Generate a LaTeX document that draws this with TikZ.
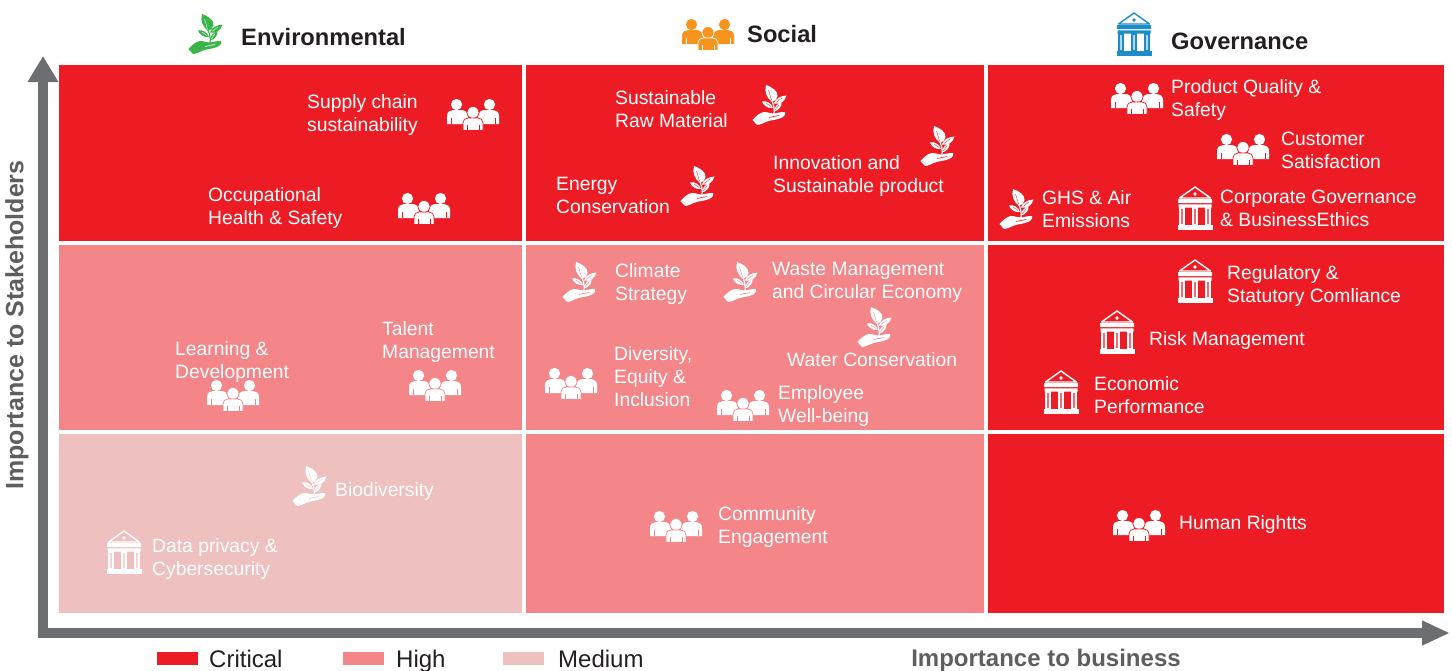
\documentclass[tikz,border=0pt]{standalone}
\usepackage{fontspec}
\usepackage{tikz}
\setmainfont{Liberation Sans}
\usetikzlibrary{arrows.meta}
\definecolor{critical}{HTML}{ED1C24}
\definecolor{highred}{HTML}{F4868A}
\definecolor{mediumred}{HTML}{EEC0C0}
\definecolor{axisgrey}{HTML}{6D6E71}
\definecolor{inkblack}{HTML}{231F20}
\definecolor{mgreen}{HTML}{39B54A}
\definecolor{morange}{HTML}{F7941E}
\definecolor{mblue}{HTML}{1C8CCB}
\tikzset{label/.style = {anchor = west, inner sep = 0, align = left, text = white, font = \fontsize{19.3}{23}\selectfont}}
\tikzset{head/.style = {anchor = west, inner sep = 0, text = inkblack, font = \fontsize{23.7}{28}\selectfont\bfseries}}
\tikzset{legend/.style = {anchor = base west, inner sep = 0, text = inkblack, font = \fontsize{24}{28}\selectfont}}
\tikzset{axistext/.style = {inner sep = 0, text = axisgrey!85!black, font = \fontsize{24}{28}\selectfont\bfseries}}
\tikzset{swatch/.style = {anchor = west, inner sep = 0, minimum width = 41, minimum height = 13}}
\tikzset{yaxis/.style = {draw = axisgrey, line width = 9.5, {Triangle[length = 26pt, width = 29pt]}-}}
\tikzset{xaxis/.style = {draw = axisgrey, line width = 9.5, -{Triangle[length = 28pt, width = 23pt]}}}
\tikzset{pics/people/.style 2 args = {code = {
  \fill [#1] (-16.5, -8.5) circle (5.6) (16.5, -8.5) circle (5.6);
  \fill [#1] (-26, 11) -- (-26, 3) .. controls (-26, -1) and (-23, -3) .. (-20, -3) -- (-12, -3) .. controls (-8, -3) and (-6, -1) .. (-5, 3) -- (-5, 11) -- cycle;
  \fill [#1] (26, 11) -- (26, 3) .. controls (26, -1) and (23, -3) .. (20, -3) -- (12, -3) .. controls (8, -3) and (6, -1) .. (5, 3) -- (5, 11) -- cycle;
  \filldraw [fill = #1, draw = #2, line width = 0.7] (0, -0.5) circle (6);
  \filldraw [fill = #1, draw = #2, line width = 0.7] (-10, 17.5) -- (-10, 10) .. controls (-10, 7) and (-8, 5) .. (-5, 5) -- (5, 5) .. controls (8, 5) and (10, 7) .. (10, 10) -- (10, 17.5) -- cycle;
  \draw [#2, line width = 0.7] (-22, 5) -- (-22, 11) (22, 5) -- (22, 11) (-6, 12) -- (-6, 17.5) (6, 12) -- (6, 17.5);
}}}
\tikzset{pics/plant/.style 2 args = {code = {
  \fill [#1] (-17.5, 15) .. controls (-14, 11) and (-10, 7.5) .. (-6, 7) .. controls (-2, 7) and (0, 8.5) .. (3, 8.5) .. controls (7, 8.5) and (11, 6.5) .. (15, 7) .. controls (16, 9) and (14, 12) .. (11, 13) .. controls (6, 15) and (1, 15) .. (-3, 16.5) .. controls (-7, 18) and (-10, 20) .. (-13, 20) -- cycle;
  \draw [#1, line width = 1.2] (4, 9) .. controls (5, 4) and (3, -2) .. (1, -7);
  \fill [#1] (2, -3) .. controls (-3, -7) and (-6, -13) .. (-4, -20) .. controls (2, -18) and (8, -14) .. (7.5, -9) .. controls (7, -6) and (5, -4) .. (2, -3) -- cycle;
  \fill [#1] (4, -1.5) .. controls (5, -6) and (10, -9) .. (16.5, -9.5) .. controls (15, -4) and (10, 0) .. (4, -1.5) -- cycle;
  \fill [#1] (3, 3) .. controls (1, -2) and (-3, -4.5) .. (-8, -3.5) .. controls (-7, 0) and (-2, 4) .. (3, 3) -- cycle;
  \fill [#1] (4, 6.5) .. controls (4, 2) and (7, -1) .. (11.5, -3) .. controls (12, 1) and (9, 5.5) .. (4, 6.5) -- cycle;
  \draw [#2, line width = 0.35] (1.5, -5) -- (-1.5, -15) (6, -2.5) -- (12, -7) (1, 1.5) -- (-4, -2) (5, 5) -- (9, 0);
  \draw [#2, line width = 0.6] (-1, 12.5) .. controls (2, 11.5) and (5, 11.5) .. (9, 10.5);
}}}
\tikzset{pics/bank/.style 2 args = {code = {
  \draw [#1, line width = 1.4, line join = round] (0, -21) -- (-15.5, -10) -- (15.5, -10) -- cycle;
  \fill [#1] (0, -14) circle (1.9);
  \fill [#1] (-17, -9) rectangle (17, -5) (-16.5, -3.6) rectangle (16.5, -0.4);
  \filldraw [draw = #1, fill = #1, fill opacity = 0.35, line width = 1.2] (-15, 0) rectangle (-11, 17) (-2, 0) rectangle (2, 17) (11, 0) rectangle (15, 17);
  \fill [#1] (-17.5, 17) rectangle (17.5, 22);
}}}
\begin{document}
\begin{tikzpicture}[x = 1pt, y = -1pt]
  \useasboundingbox (0, 0) rectangle (1452, 670);
  \fill [critical] (59, 65) rectangle (522, 241);
  \fill [critical] (526, 65) rectangle (984, 241);
  \fill [critical] (988, 65) rectangle (1444, 241);
  \fill [highred] (59, 245) rectangle (522, 430);
  \fill [highred] (526, 245) rectangle (984, 430);
  \fill [critical] (988, 245) rectangle (1444, 430);
  \fill [mediumred] (59, 434) rectangle (522, 613);
  \fill [highred] (526, 434) rectangle (984, 613);
  \fill [critical] (988, 434) rectangle (1444, 613);
  \coordinate (ytop) at (43, 56);
  \coordinate (origin) at (43, 633);
  \coordinate (xend) at (1450, 633);
  \draw [yaxis] (ytop) -- (origin);
  \draw [xaxis] ([xshift = -4.75] origin) -- (xend);
  \node [axistext, rotate = 90, font = \fontsize{25}{28}\selectfont\bfseries] (yname) at (17, 325) {Importance to Stakeholders};
  \node [axistext] (xname) at (1046, 660) {Importance to business};
  \pic at (206, 34) {plant = {mgreen}{white}};
  \node [head] (envhead) at (241, 37) {Environmental};
  \pic at (708, 33) {people = {morange}{white}};
  \node [head] (sochead) at (747, 34) {Social};
  \pic at (1134, 34) {bank = {mblue}{white}};
  \node [head] (govhead) at (1171, 41) {Governance};
  \node [label] (supply) at (307, 115) {Supply chain\\sustainability};
  \pic at (473, 113) {people = {white}{critical}};
  \node [label] (health) at (208, 208) {Occupational\\Health \& Safety};
  \pic at (424, 207) {people = {white}{critical}};
  \node [label] (material) at (615, 109) {Sustainable\\Raw Material};
  \pic at (770, 105) {plant = {white}{critical}};
  \node [label] (energy) at (556, 195) {Energy\\Conservation};
  \pic at (698, 186) {plant = {white}{critical}};
  \node [label] (innovation) at (773, 176) {Innovation and\\Sustainable product};
  \pic at (938, 146) {plant = {white}{critical}};
  \pic at (1137, 97) {people = {white}{critical}};
  \node [label] (quality) at (1171, 100) {Product Quality \&\\Safety};
  \pic at (1243, 148) {people = {white}{critical}};
  \node [label] (customer) at (1281, 150) {Customer\\Satisfaction};
  \pic at (1017, 209) {plant = {white}{critical}};
  \node [label] (ghs) at (1042, 209) {GHS \& Air\\Emissions};
  \pic at (1195, 208) {bank = {white}{critical}};
  \node [label] (corporate) at (1220, 208) {Corporate Governance\\\& BusinessEthics};
  \node [label] (learning) at (175, 362) {Learning \&\\Development};
  \pic at (233, 394) {people = {white}{highred}};
  \node [label] (talent) at (382, 342) {Talent\\Management};
  \pic at (435, 384) {people = {white}{highred}};
  \pic at (580, 282) {plant = {white}{highred}};
  \node [label] (climate) at (615, 284) {Climate\\Strategy};
  \pic at (741, 282) {plant = {white}{highred}};
  \node [label] (waste) at (772, 282) {Waste Management\\and Circular Economy};
  \pic at (875, 327) {plant = {white}{highred}};
  \node [label] (water) at (787, 360) {Water Conservation};
  \pic at (571, 382) {people = {white}{highred}};
  \node [label] (diversity) at (614, 377) {Diversity,\\Equity \&\\Inclusion};
  \pic at (743, 404) {people = {white}{highred}};
  \node [label] (employee) at (778, 406) {Employee\\Well-being};
  \pic at (1195, 281) {bank = {white}{critical}};
  \node [label] (regulatory) at (1227, 286) {Regulatory \&\\Statutory Comliance};
  \pic at (1117, 332) {bank = {white}{critical}};
  \node [label] (risk) at (1149, 341) {Risk Management};
  \pic at (1061, 392) {bank = {white}{critical}};
  \node [label] (economic) at (1094, 395) {Economic\\Performance};
  \pic at (310, 486) {plant = {white}{mediumred}};
  \node [label] (biodiversity) at (335, 492) {Biodiversity};
  \pic at (124, 552) {bank = {white}{mediumred}};
  \node [label] (privacy) at (152, 559) {Data privacy \&\\Cybersecurity};
  \pic at (676, 525) {people = {white}{highred}};
  \node [label] (community) at (718, 527) {Community\\Engagement};
  \pic at (1139, 524) {people = {white}{critical}};
  \node [label] (rights) at (1179, 525) {Human Rightts};
  \node [swatch, fill = critical] (critbox) at (157, 658.5) {};
  \node [legend] (crittext) at (209, 667) {Critical};
  \node [swatch, fill = highred] (highbox) at (343, 658.5) {};
  \node [legend] (hightext) at (396, 667) {High};
  \node [swatch, fill = mediumred] (medbox) at (503, 658.5) {};
  \node [legend] (medtext) at (558, 667) {Medium};
\end{tikzpicture}
\end{document}
